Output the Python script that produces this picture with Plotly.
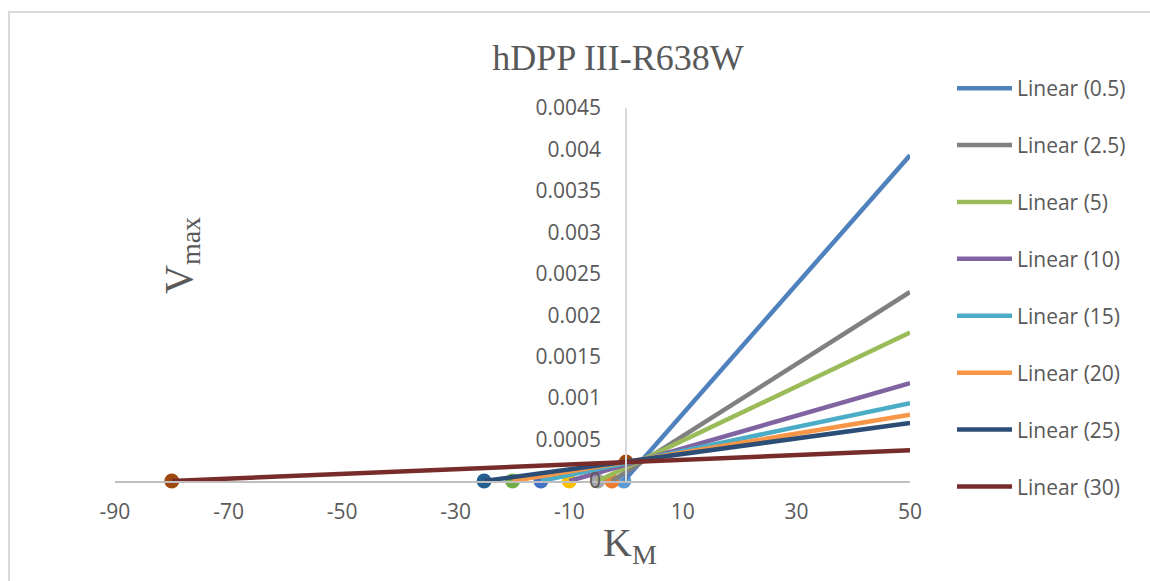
import plotly.graph_objects as go

# ---- data ----
series_labels = ["0.5", "2.5", "5", "10", "15", "20", "25", "30"]
x_intercepts = [-0.4, -2.5, -5, -10, -15, -20, -25, -80]      # K_M axis intercepts (markers)
y_at_end = [0.00393, 0.00228, 0.00179, 0.00118, 0.00094, 0.0008, 0.0007, 0.00037]
x_end = 50
# extra point of the last series on the V_max axis
yint_x = [0]
yint_y = [0.000228]

x_tickvals = [-90, -70, -50, -30, -10, 10, 30, 50]
x_ticktext = ["-90", "-70", "-50", "-30", "-10", "10", "30", "50"]

marker_colors = ["#5B9BD5", "#ED7D31", "#A5A5A5", "#FFC000",
                 "#4472C4", "#70AD47", "#255E91", "#9E480E"]
line_colors = ["#4F81BD", "#808080", "#9BBB59", "#8064A2",
               "#4BACC6", "#F79646", "#2C4D75", "#772C2A"]

fig = go.Figure()

# markers (not in legend)
for i, xi in enumerate(x_intercepts):
    fig.add_trace(go.Scatter(x=[xi], y=[0], mode="markers",
                             marker=dict(size=15, color=marker_colors[i]),
                             showlegend=False, hoverinfo="skip", cliponaxis=False))
fig.add_trace(go.Scatter(x=yint_x, y=yint_y, mode="markers",
                         marker=dict(size=15, color=marker_colors[-1]),
                         showlegend=False, hoverinfo="skip", cliponaxis=False))

# linear trendlines
for i, lab in enumerate(series_labels):
    fig.add_trace(go.Scatter(x=[x_intercepts[i], x_end], y=[0, y_at_end[i]],
                             mode="lines", line=dict(color=line_colors[i], width=4.5),
                             name=f"Linear ({lab})", legendgroup=f"g{i}",
                             cliponaxis=False))

font_color = "#595959"
W, H = 1150, 581
L, R, T, B = 115, 240, 108, 100
pw = W - L - R
ph = H - T - B


def px2x(p):
    return (p - L) / pw


def py2y(p):
    return (H - B - p) / ph


fig.update_layout(
    width=W, height=H,
    margin=dict(l=L, r=R, t=T, b=B, pad=0, autoexpand=False),
    paper_bgcolor="white", plot_bgcolor="white",
    font=dict(family="Open Sans", size=21, color=font_color),
    title=dict(text="hDPP III-R638W", x=618 / W, xanchor="center",
               y=1 - 57 / H, yanchor="middle", xref="container", yref="container",
               font=dict(family="Liberation Serif", size=36, color=font_color)),
    xaxis=dict(range=[-90, 50], tickmode="array", tickvals=x_tickvals, ticktext=x_ticktext,
               showgrid=False, zeroline=False,
               showline=True, linecolor="#BFBFBF", linewidth=1.5, ticks="",
               ticklabelstandoff=11,
               tickfont=dict(family="Open Sans", size=21, color=font_color)),
    yaxis=dict(range=[0, 0.0045], dtick=0.0005, showgrid=False, zeroline=False,
               anchor="free", position=90 / 140, showline=True,
               linecolor="#D9D9D9", linewidth=1.5, ticks="",
               ticklabelstandoff=20, tickformat="~g",
               tickfont=dict(family="Open Sans", size=21, color=font_color)),
    legend=dict(x=px2x(952), xanchor="left",
                y=py2y(68), yanchor="top", maxheight=560,
                traceorder="grouped", tracegroupgap=26.6, itemwidth=55,
                font=dict(family="Open Sans", size=21, color=font_color),
                bgcolor="rgba(0,0,0,0)"),
    showlegend=True,
)

fig.add_annotation(text="V<sub>max</sub>", textangle=-90, showarrow=False,
                   xref="paper", yref="paper", x=px2x(181), y=py2y(256),
                   xanchor="center", yanchor="middle",
                   font=dict(family="Liberation Serif", size=40, color=font_color))
fig.add_annotation(text="K<sub>M</sub>", showarrow=False,
                   xref="paper", yref="paper", x=px2x(630), y=py2y(545),
                   xanchor="center", yanchor="middle",
                   font=dict(family="Liberation Serif", size=40, color=font_color))

# chart border
fig.add_shape(type="rect", xref="paper", yref="paper",
              x0=px2x(9), x1=px2x(1160), y0=py2y(600), y1=py2y(12),
              line=dict(color="#D9D9D9", width=2), fillcolor="rgba(0,0,0,0)", layer="below")

fig.write_html("out.html", config={"displayModeBar": False},
               post_script="document.body.style.margin='0';document.body.style.padding='0';")
